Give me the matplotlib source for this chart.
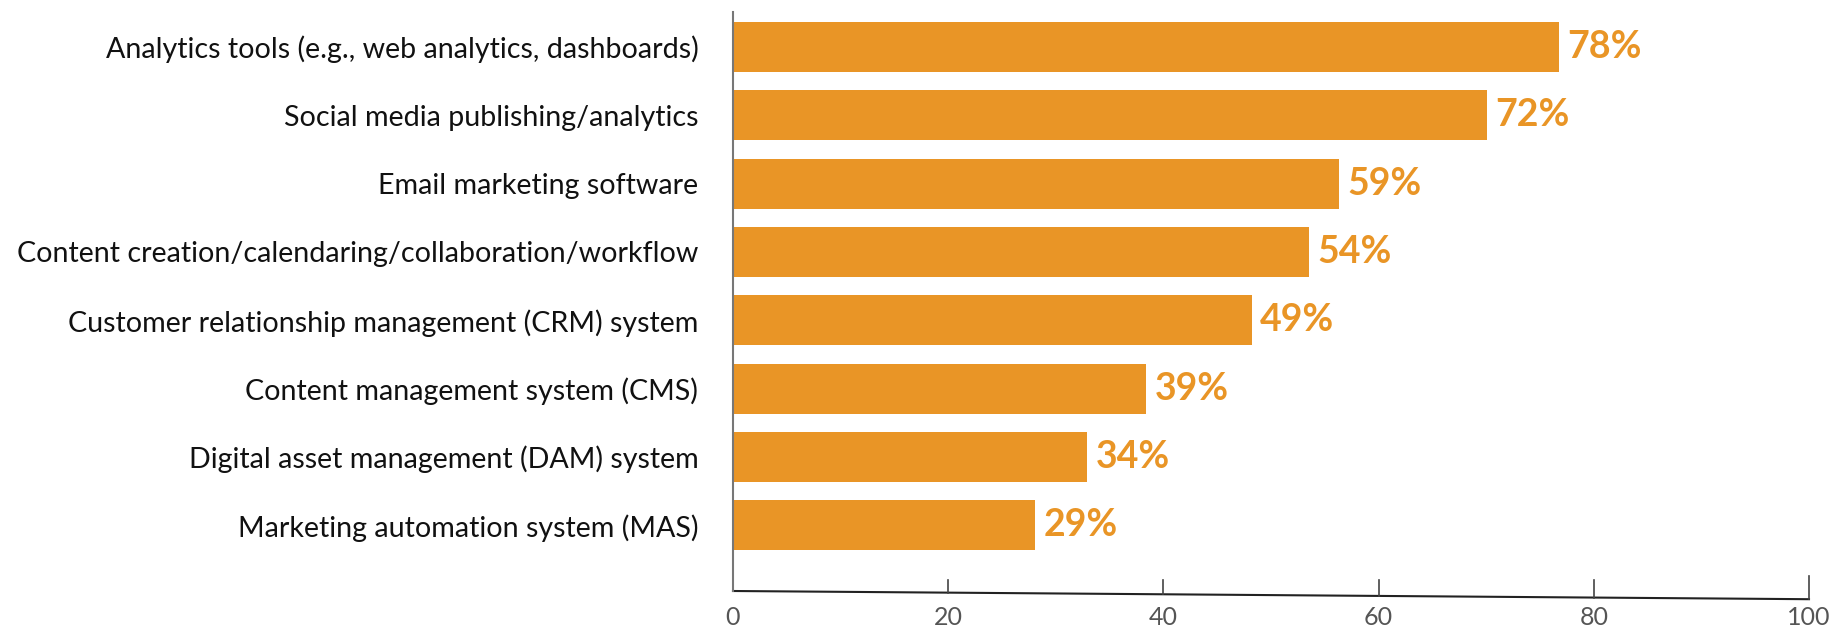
import numpy as np
import matplotlib
matplotlib.use("Agg")
import matplotlib.pyplot as plt

categories = [
    "Analytics tools (e.g., web analytics, dashboards)",
    "Social media publishing/analytics",
    "Email marketing software",
    "Content creation/calendaring/collaboration/workflow",
    "Customer relationship management (CRM) system",
    "Content management system (CMS)",
    "Digital asset management (DAM) system",
    "Marketing automation system (MAS)",
]
# bar lengths as drawn in the picture, and the printed labels
bar_values = [76.8, 70.1, 56.3, 53.5, 48.2, 38.4, 32.9, 28.1]
pct_labels = [78, 72, 59, 54, 49, 39, 34, 29]
xticks = [0, 20, 40, 60, 80, 100]

ORANGE = "#E99526"
plt.rcParams['font.family'] = ['Lato', 'DejaVu Sans']

fig = plt.figure(figsize=(18.47, 6.30), dpi=100)
ax = fig.add_axes([733/1847, 1 - 591/630, (1809 - 733)/1847, (591 - 12)/630])

y = np.arange(len(categories))
ax.barh(y, bar_values, height=0.73, color=ORANGE)
for yi, v, p in zip(y, bar_values, pct_labels):
    ax.annotate(f"{p}%", (v, yi), xytext=(6, 0), textcoords="offset points",
                va="center", ha="left", color=ORANGE, fontsize=27, fontweight="bold")

ax.set_xlim(0, 100)
ax.set_ylim(7.96, -0.51)
ax.set_yticks(y)
ax.set_yticklabels(categories, fontsize=20.6, color="#111111")
ax.tick_params(axis="y", length=0, pad=25)

for s in ["top", "right", "bottom"]:
    ax.spines[s].set_visible(False)
ax.spines["left"].set_color("#777777")
ax.spines["left"].set_linewidth(1.5)

# slightly slanted bottom axis line with upward ticks
y0, y1 = 7.96, 8.08
ax.plot([0, 100], [y0, y1], color="#222222", lw=1.5, clip_on=False)
for t in xticks[1:]:
    yb = np.interp(t, [0, 100], [y0, y1])
    top = 7.74 if t == 100 else 7.80
    ax.plot([t, t], [yb, top], color="#444444", lw=1.2, clip_on=False)

ax.set_xticks(xticks)
ax.set_xticklabels([str(t) for t in xticks], fontsize=18, color="#555555")
ax.tick_params(axis="x", length=0, pad=11)

fig.savefig("out.png", dpi=100)
